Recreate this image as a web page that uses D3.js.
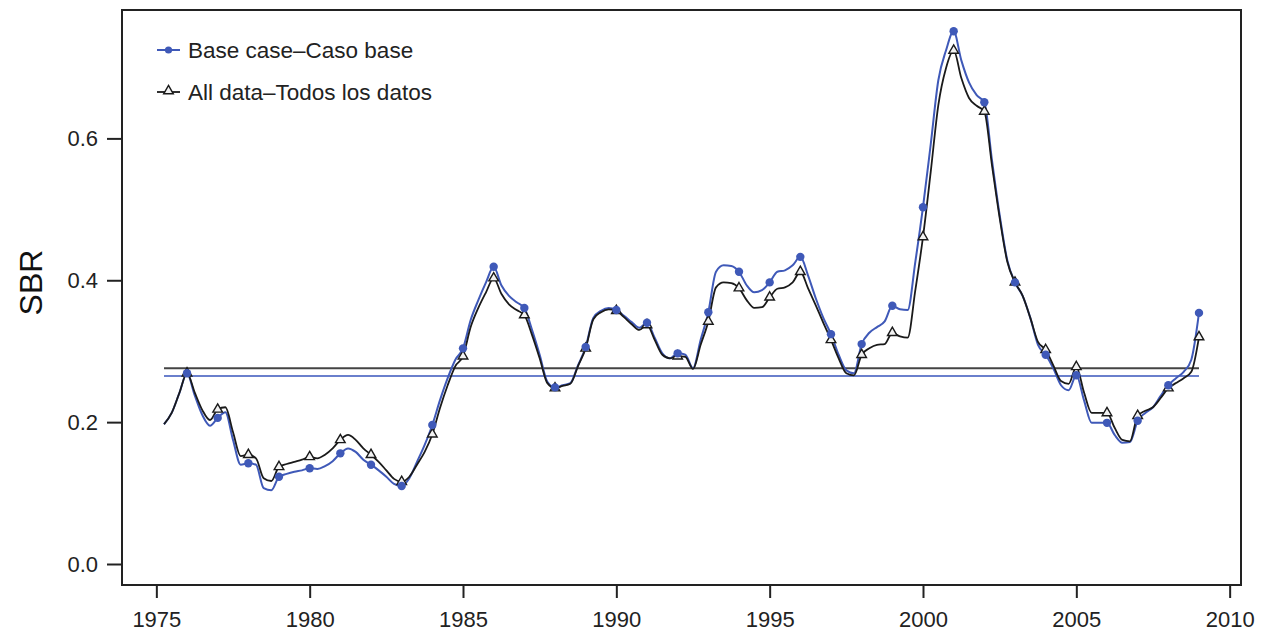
<!DOCTYPE html>
<html>
<head>
<meta charset="utf-8">
<script src="https://cdn.jsdelivr.net/npm/d3@7/dist/d3.min.js"></script>
<style>
  html, body { margin: 0; padding: 0; background: #ffffff; }
  svg { display: block; font-family: "Liberation Sans", Arial, Helvetica, sans-serif; }
</style>
</head>
<body>
<svg id="chart" width="1273" height="641"></svg>
<script>
// ---- data (quarterly, 1975.25 .. 2009.00) ----
const startYear = 1975.25;
const step = 0.25;

const baseCase = [
  // 1975.25 - 1985.00
  0.197, 0.213, 0.241, 0.269, 0.238, 0.210, 0.195, 0.206, 0.214, 0.175,
  0.140, 0.142, 0.140, 0.107, 0.104, 0.123, 0.127, 0.130, 0.132, 0.135,
  0.134, 0.138, 0.145, 0.156, 0.163, 0.158, 0.147, 0.140, 0.132, 0.123,
  0.113, 0.110, 0.121, 0.144, 0.168, 0.196, 0.231, 0.262, 0.288, 0.304,
  // 1985.25 - 1993.00
  0.344, 0.372, 0.397, 0.419, 0.393, 0.378, 0.369, 0.361, 0.330, 0.295,
  0.257, 0.249, 0.252, 0.255, 0.280, 0.306, 0.347, 0.357, 0.361, 0.358,
  0.350, 0.341, 0.333, 0.340, 0.319, 0.297, 0.290, 0.297, 0.295, 0.276,
  0.316, 0.355,
  // 1993.25 - 2000.00
  0.412, 0.421, 0.420, 0.412, 0.393, 0.383, 0.386, 0.397, 0.412, 0.414,
  0.421, 0.433, 0.407, 0.375, 0.347, 0.324, 0.295, 0.273, 0.269, 0.310,
  0.326, 0.334, 0.342, 0.364, 0.359, 0.358, 0.426, 0.503,
  // 2000.25 - 2003.00
  0.591, 0.682, 0.724, 0.751, 0.710, 0.679, 0.661, 0.651, 0.569, 0.492,
  0.428, 0.397,
  // 2003.25 - 2009.00
  0.378, 0.347, 0.309, 0.295, 0.276, 0.252, 0.245, 0.266, 0.231, 0.199,
  0.199, 0.199, 0.182, 0.171, 0.172, 0.202, 0.213, 0.221, 0.237, 0.252,
  0.262, 0.271, 0.288, 0.354
];

const allData = [
  // 1975.25 - 1985.00
  0.197, 0.213, 0.241, 0.269, 0.242, 0.217, 0.203, 0.218, 0.221, 0.186,
  0.152, 0.154, 0.149, 0.121, 0.117, 0.137, 0.141, 0.144, 0.147, 0.151,
  0.149, 0.154, 0.163, 0.175, 0.182, 0.175, 0.163, 0.154, 0.144, 0.132,
  0.120, 0.116, 0.123, 0.140, 0.158, 0.183, 0.220, 0.252, 0.279, 0.293,
  // 1985.25 - 1993.00
  0.334, 0.361, 0.383, 0.403, 0.381, 0.366, 0.358, 0.351, 0.323, 0.290,
  0.255, 0.248, 0.251, 0.254, 0.279, 0.304, 0.345, 0.355, 0.359, 0.357,
  0.348, 0.338, 0.330, 0.337, 0.316, 0.295, 0.290, 0.293, 0.292, 0.275,
  0.309, 0.342,
  // 1993.25 - 2000.00
  0.390, 0.397, 0.396, 0.389, 0.372, 0.361, 0.362, 0.376, 0.388, 0.390,
  0.397, 0.412, 0.389, 0.365, 0.340, 0.316, 0.290, 0.269, 0.266, 0.295,
  0.304, 0.309, 0.310, 0.326, 0.321, 0.319, 0.386, 0.461,
  // 2000.25 - 2003.00
  0.552, 0.647, 0.699, 0.724, 0.685, 0.657, 0.646, 0.638, 0.562, 0.488,
  0.426, 0.397,
  // 2003.25 - 2009.00
  0.378, 0.347, 0.313, 0.302, 0.280, 0.258, 0.254, 0.278, 0.242, 0.213,
  0.213, 0.213, 0.192, 0.175, 0.173, 0.209, 0.216, 0.221, 0.234, 0.248,
  0.255, 0.262, 0.271, 0.320
];

// reference (average) lines
const baseMean = 0.265;
const allMean = 0.276;

const xTicks = [1975, 1980, 1985, 1990, 1995, 2000, 2005, 2010];
const yTicks = [0.0, 0.2, 0.4, 0.6];
const yTickLabels = ["0.0", "0.2", "0.4", "0.6"];
const seriesNames = ["Base case\u2013Caso base", "All data\u2013Todos los datos"];
const yTitle = "SBR";

// ---- layout ----
const blue = "#3f59b8";
const black = "#1a1a1a";
const pLeft = 122, pRight = 1241, pTop = 10, pBottom = 585;

const times = baseCase.map((_, i) => startYear + i * step);

const x = d3.scaleLinear().domain([1973.88, 2010.37]).range([pLeft, pRight]);
const y = d3.scaleLinear().domain([-0.0296, 0.781]).range([pBottom, pTop]);

const svg = d3.select("#chart");

// box
svg.append("rect")
  .attr("x", pLeft).attr("y", pTop)
  .attr("width", pRight - pLeft).attr("height", pBottom - pTop)
  .attr("fill", "none").attr("stroke", "#222").attr("stroke-width", 2);

// x axis
const xAxis = svg.append("g")
  .attr("transform", `translate(0,${pBottom + 1})`)
  .call(d3.axisBottom(x).tickValues(xTicks).tickFormat(d3.format("d")).tickSize(12).tickPadding(13));
xAxis.select(".domain").remove();
xAxis.selectAll(".tick line").attr("stroke", "#222").attr("stroke-width", 2);
xAxis.selectAll(".tick text").attr("font-size", 22).attr("fill", "#222")
  .attr("font-family", "'Liberation Sans', Arial, sans-serif");

// y axis
const yAxis = svg.append("g")
  .attr("transform", `translate(${pLeft - 1},0)`)
  .call(d3.axisLeft(y).tickValues(yTicks).tickFormat((d, i) => yTickLabels[i]).tickSize(14).tickPadding(9));
yAxis.select(".domain").remove();
yAxis.selectAll(".tick line").attr("stroke", "#222").attr("stroke-width", 2);
yAxis.selectAll(".tick text").attr("font-size", 22).attr("fill", "#222")
  .attr("font-family", "'Liberation Sans', Arial, sans-serif");

// y title
svg.append("text")
  .attr("transform", `translate(42,${(pTop + pBottom) / 2 - 15}) rotate(-90)`)
  .attr("text-anchor", "middle")
  .attr("font-size", 32)
  .attr("fill", "#111")
  .text(yTitle);

// mean lines
const tMin = times[0], tMax = times[times.length - 1];
svg.append("line")
  .attr("x1", x(tMin)).attr("x2", x(tMax))
  .attr("y1", y(allMean)).attr("y2", y(allMean))
  .attr("stroke", "#444").attr("stroke-width", 2);
svg.append("line")
  .attr("x1", x(tMin)).attr("x2", x(tMax))
  .attr("y1", y(baseMean)).attr("y2", y(baseMean))
  .attr("stroke", "#6a7fcc").attr("stroke-width", 2);

const line = d3.line().curve(d3.curveMonotoneX).x(d => x(d[0])).y(d => y(d[1]));
const bluePts = times.map((t, i) => [t, baseCase[i]]);
const blackPts = times.map((t, i) => [t, allData[i]]);

svg.append("path").datum(bluePts).attr("d", line)
  .attr("fill", "none").attr("stroke", blue).attr("stroke-width", 2);
svg.append("path").datum(blackPts).attr("d", line)
  .attr("fill", "none").attr("stroke", black).attr("stroke-width", 1.8);

const isYear = d => Math.abs(d[0] - Math.round(d[0])) < 1e-6;
const tri = d3.symbol().type(d3.symbolTriangle).size(40);

svg.append("g").selectAll("path")
  .data(blackPts.filter(isYear))
  .join("path")
  .attr("transform", d => `translate(${x(d[0])},${y(d[1])})`)
  .attr("d", tri)
  .attr("fill", "#f2f2f2").attr("stroke", black).attr("stroke-width", 1.4);

svg.append("g").selectAll("circle")
  .data(bluePts.filter(isYear))
  .join("circle")
  .attr("cx", d => x(d[0])).attr("cy", d => y(d[1]))
  .attr("r", 4.2).attr("fill", blue);

// legend
const lg = svg.append("g");
const legY = [50, 92];
lg.append("line").attr("x1", 157).attr("x2", 180).attr("y1", legY[0]).attr("y2", legY[0])
  .attr("stroke", blue).attr("stroke-width", 2);
lg.append("circle").attr("cx", 168.5).attr("cy", legY[0]).attr("r", 3.6).attr("fill", blue);
lg.append("line").attr("x1", 157).attr("x2", 180).attr("y1", legY[1]).attr("y2", legY[1])
  .attr("stroke", black).attr("stroke-width", 1.8);
lg.append("path").attr("transform", `translate(168.5,${legY[1] - 1})`).attr("d", tri)
  .attr("fill", "#f2f2f2").attr("stroke", black).attr("stroke-width", 1.4);
seriesNames.forEach((name, i) => {
  lg.append("text").attr("x", 188).attr("y", legY[i] + 8)
    .attr("font-size", 22.5).attr("fill", "#222").text(name);
});
</script>
</body>
</html>
